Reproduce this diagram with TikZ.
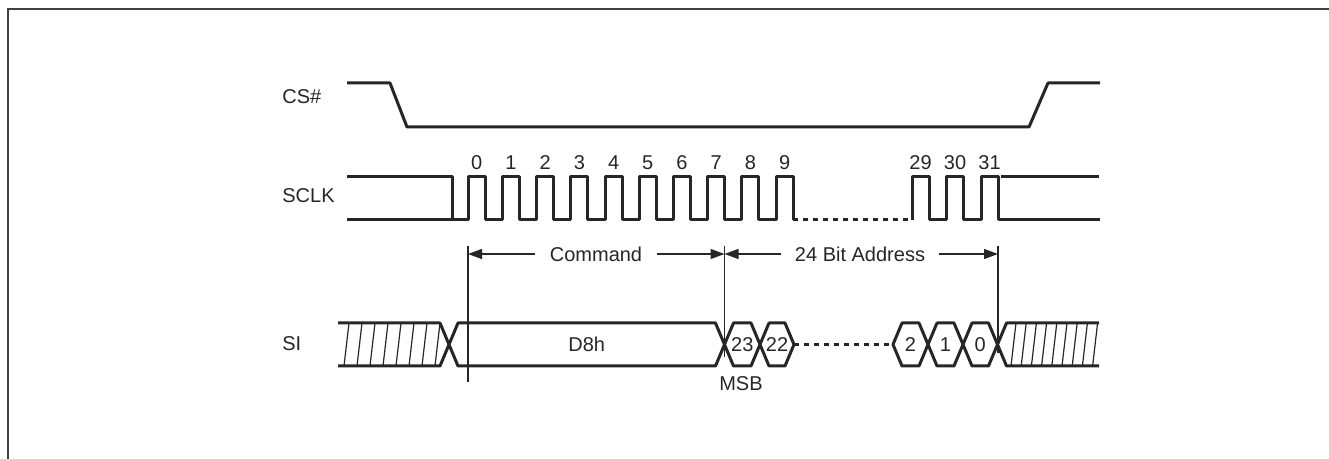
\documentclass[tikz,border=0pt]{standalone}
\usepackage{fontspec}
\setmainfont{Liberation Sans}
\usetikzlibrary{arrows.meta}
\definecolor{ink}{HTML}{262626}

\begin{document}
\begin{tikzpicture}[x=0.5pt,y=-0.5pt,
    every node/.style={font=\fontsize{10}{12}\selectfont, text=ink},
    sig/.style={draw=ink, line width=1.5pt, line join=round},
    dim/.style={draw=ink, line width=0.65pt},
    hatch/.style={draw=ink, line width=0.6pt},
    tip/.style={dim, -{Triangle[length=7pt,width=5pt]}},
    lbl/.style={anchor=west, inner sep=0pt},
    num/.style={inner sep=0pt},
    span/.style={inner xsep=7pt, inner ysep=0pt}]
  \useasboundingbox (0,0) rectangle (1329,459);
  \def\yH{323} \def\yL{366} \def\yM{344.5}
  \def\cH{177} \def\cL{220}

  % frame
  \draw[black!75, line width=1pt] (1329,9.3) -- (8.3,9.3) -- (8.3,459);

  % Define nodes
  \node[lbl] (cs)   at (282,97)  {CS\#};
  \node[lbl] (sclk) at (282,196) {SCLK};
  \node[lbl] (si)   at (282,344) {SI};
  \node[span] (cmd)  at (596,254) {Command};
  \node[span] (addr) at (860,254) {24 Bit Address};
  \node (msb) at (741,384) {MSB};
  \coordinate (v1) at (468,254);
  \coordinate (v2) at (724.5,254);
  \coordinate (v3) at (998,254);

  % CS#
  \draw[sig] (347,83) -- (390,83) -- (407,127) -- (1029,127) -- (1048,83) -- (1100,83);

  % SCLK
  \draw[sig] (347,\cH) -- (452,\cH) -- (452,\cL);
  \draw[sig] (347,\cL) foreach \k in {0,...,9} {
    -- ({468.3+34.2*\k},\cL) -- ++(0,-43) -- ++(17,0) -- ++(0,43) };
  \draw[sig, dash pattern=on 2.5pt off 2.5pt] (793.1,\cL) -- (912,\cL);
  \draw[sig] (912,\cL) foreach \k in {0,1,2} {
    -- ({912+34.5*\k},\cL) -- ++(0,-43) -- ++(17,0) -- ++(0,43) } -- (1100,\cL);
  \draw[sig] (1001,\cH) -- (1099,\cH);
  \foreach \k in {0,...,9}
    \node[num] (n\k) at ({476.8+34.2*\k},163) {\k};
  \foreach \n [count=\i from 0] in {29,30,31}
    \node[num] (n\n) at ({920.5+34.5*\i},163) {\n};

  % SI
  \draw[sig] (338,\yH) -- (440,\yH) -- (449,\yM) -- (440,\yL) -- (338,\yL);
  \draw[sig] (1099,\yH) -- (1006.5,\yH) -- (997.5,\yM) -- (1006.5,\yL) -- (1099,\yL);
  \foreach \k in {0,...,7}
    \draw[hatch] ({344+13*\k},\yL) -- ++(5,-43);
  \foreach \k in {0,...,8}
    \draw[hatch] ({1011+10.2*\k},\yL) -- ++(5,-43);
  \foreach \a/\b/\t in {449/724.5/D8h, 724.5/760/23, 760/794/22,
                        893/928/2, 928/963/1, 963/997.5/0} {
    \draw[sig] (\a,\yM) -- ({\a+9},\yH) -- ({\b-9},\yH) -- (\b,\yM)
      -- ({\b-9},\yL) -- ({\a+9},\yL) -- cycle;
    \node (b\t) at ({(\a+\b)/2},\yM) {\t};
  }
  \draw[sig, dash pattern=on 2.5pt off 2.5pt] (bD8h -| 794,0) -- (bD8h -| 893,0);

  % Spans
  \draw[dim] (468,246) -- (468,382);
  \draw[dim] (724.5,246) -- (724.5,357);
  \draw[dim] (998,246) -- (998,353);
  \draw[tip] (cmd) -- (v1);
  \draw[tip] (cmd) -- (v2);
  \draw[tip] (addr) -- (v2);
  \draw[tip] (addr) -- (v3);
\end{tikzpicture}
\end{document}
